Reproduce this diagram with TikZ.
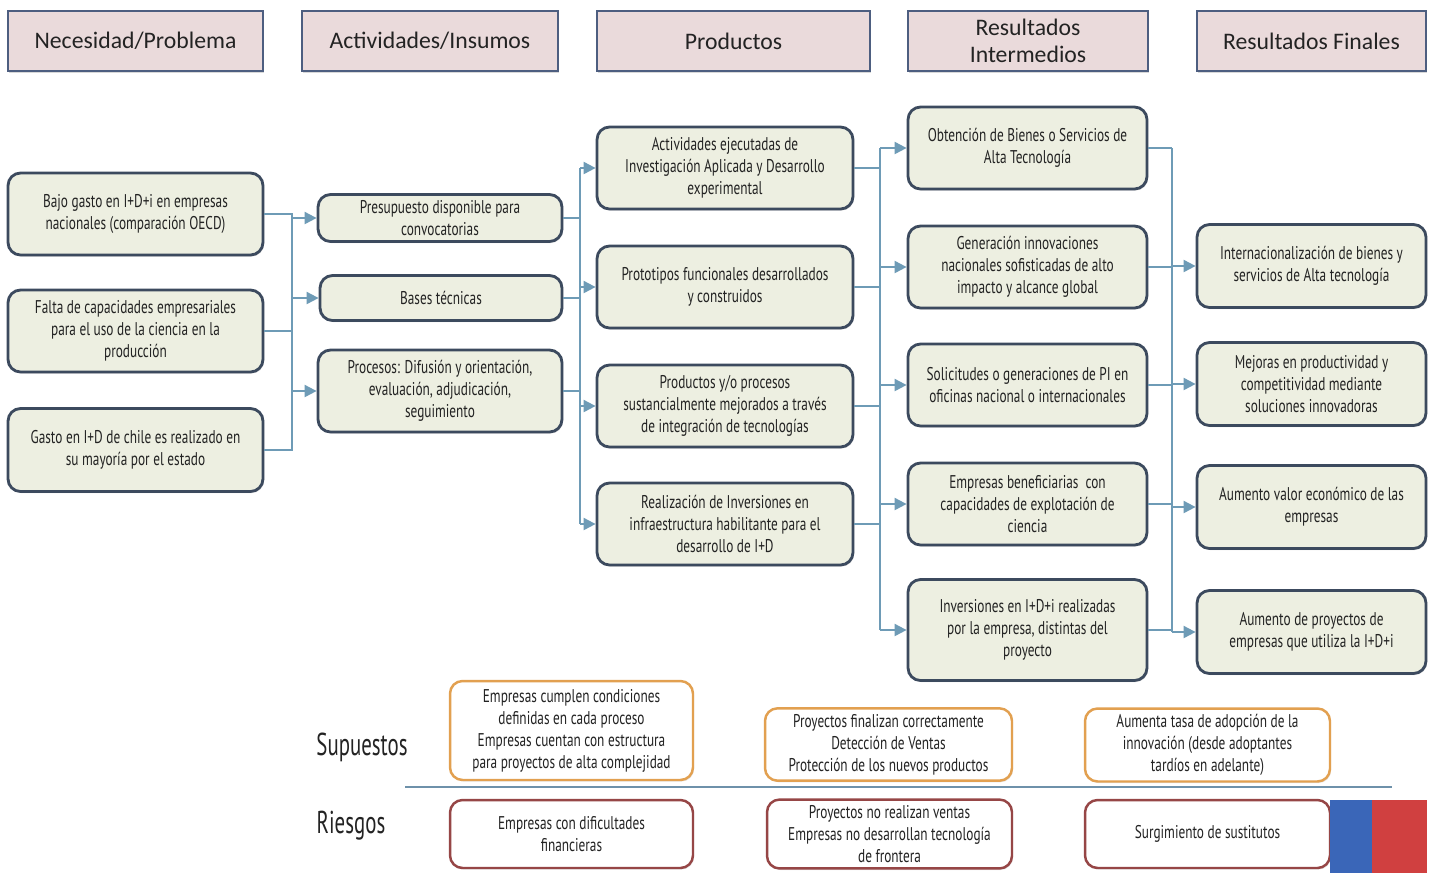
\documentclass[tikz,border=0pt]{standalone}
\usepackage{fontspec}
\setmainfont{Carlito}
\newfontfamily\condfont[FakeStretch=0.72]{PT Sans}
\newfontfamily\labelfont[FakeStretch=0.66]{PT Sans}
\usetikzlibrary{
  arrows.meta,
  shadows
}
\definecolor{headfill}{RGB}{234, 218, 219}
\definecolor{headdraw}{RGB}{77, 94, 128}
\definecolor{boxfill}{RGB}{237, 239, 225}
\definecolor{boxdraw}{RGB}{60, 74, 94}
\definecolor{linkcolor}{RGB}{110, 155, 182}
\definecolor{supcolor}{RGB}{226, 160, 80}
\definecolor{riskcolor}{RGB}{150, 70, 70}
\definecolor{dividercolor}{RGB}{110, 145, 170}
\definecolor{flagblue}{RGB}{58, 102, 184}
\definecolor{flagred}{RGB}{208, 64, 64}
\definecolor{labelcolor}{RGB}{35, 35, 35}
\newcommand{\boxfont}{\condfont\fontsize{10.5}{12.5}\selectfont}
\tikzset{
headblock/.style={
  draw=headdraw,
  line width=1.6pt,
  fill=headfill,
  minimum height=1.2cm,
  align=center,
  text=labelcolor,
  font=\fontsize{13.5}{15.5}\selectfont,
  drop shadow={shadow xshift=0.6pt, shadow yshift=-0.9pt, opacity=0.3}
},
block/.style={
  draw=boxdraw,
  line width=1.6pt,
  rounded corners=0.25cm,
  fill=boxfill,
  minimum height=1.64cm,
  align=center,
  text=labelcolor,
  font=\boxfont,
  drop shadow={shadow xshift=0.6pt, shadow yshift=-0.9pt, opacity=0.3}
},
supblock/.style={
  draw=supcolor,
  line width=1.4pt,
  rounded corners=0.25cm,
  fill=white,
  align=center,
  text=labelcolor,
  font=\boxfont,
  drop shadow={shadow xshift=0.6pt, shadow yshift=-0.9pt, opacity=0.2}
},
riskblock/.style={
  supblock,
  draw=riskcolor
},
sidelabel/.style={
  font=\labelfont\fontsize{18}{20}\selectfont,
  text=labelcolor
},
link/.style={
  draw=linkcolor,
  line width=1.1pt
},
arrow/.style={
  link,
  -{Triangle[length=2.4mm,width=2.4mm]}
}
}

\begin{document}
\begin{tikzpicture}[x=0.02cm, y=-0.02cm]
  \fill[white] (0,0) rectangle (1437,873);
  \useasboundingbox (0,0) rectangle (1437,873);

  % column headers
  \node[headblock, minimum width=5.1cm] (hdrNeed) at (135.5,41) {Necesidad/Problema};
  \node[headblock, minimum width=5.12cm] (hdrAct) at (430,41) {Actividades/Insumos};
  \node[headblock, minimum width=5.46cm] (hdrProd) at (733.5,41) {Productos};
  \node[headblock, minimum width=4.8cm] (hdrInter) at (1028,41) {Resultados\\Intermedios};
  \node[headblock, minimum width=4.58cm] (hdrFinal) at (1311.5,41) {Resultados Finales};

  % necesidad / problema
  \node[block, minimum width=5.1cm] (need1) at (135.5,214) {Bajo gasto en I+D+i en empresas\\nacionales (comparación OECD)};
  \node[block, minimum width=5.1cm] (need2) at (135.5,331) {Falta de capacidades empresariales\\para el uso de la ciencia en la\\producción};
  \node[block, minimum width=5.1cm, minimum height=1.66cm] (need3) at (135.5,450) {Gasto en I+D de chile es realizado en\\su mayoría por el estado};

  % actividades / insumos
  \node[block, minimum width=4.88cm, minimum height=0.94cm] (act1) at (440,218) {Presupuesto disponible para\\convocatorias};
  \node[block, minimum width=4.84cm, minimum height=0.9cm] (act2) at (441,298) {Bases técnicas};
  \node[block, minimum width=4.88cm] (act3) at (440,391) {Procesos: Difusión y orientación,\\evaluación, adjudicación,\\seguimiento};

  % productos
  \node[block, minimum width=5.12cm] (prod1) at (725,168) {Actividades ejecutadas de\\Investigación Aplicada y Desarrollo\\experimental};
  \node[block, minimum width=5.12cm] (prod2) at (725,287) {Prototipos funcionales desarrollados\\y construidos};
  \node[block, minimum width=5.12cm] (prod3) at (725,406) {Productos y/o procesos\\sustancialmente mejorados a través\\de integración de tecnologías};
  \node[block, minimum width=5.12cm] (prod4) at (725,524) {Realización de Inversiones en\\infraestructura habilitante para el\\desarrollo de I+D};

  % resultados intermedios
  \node[block, minimum width=4.78cm] (inter1) at (1027.5,148) {Obtención de Bienes o Servicios de\\Alta Tecnología};
  \node[block, minimum width=4.78cm] (inter2) at (1027.5,267) {Generación innovaciones\\nacionales sofisticadas de alto\\impacto y alcance global};
  \node[block, minimum width=4.78cm] (inter3) at (1027.5,385) {Solicitudes o generaciones de PI en\\oficinas nacional o internacionales};
  \node[block, minimum width=4.78cm] (inter4) at (1027.5,504) {Empresas beneficiarias\ \ con\\capacidades de explotación de\\ciencia};
  \node[block, minimum width=4.78cm, minimum height=2.02cm] (inter5) at (1027.5,630) {Inversiones en I+D+i realizadas\\por la empresa, distintas del\\proyecto};

  % resultados finales
  \node[block, minimum width=4.58cm, minimum height=1.66cm] (final1) at (1311.5,266) {Internacionalización de bienes y\\servicios de Alta tecnología};
  \node[block, minimum width=4.58cm, minimum height=1.66cm] (final2) at (1311.5,384) {Mejoras en productividad y\\competitividad mediante\\soluciones innovadoras};
  \node[block, minimum width=4.58cm, minimum height=1.66cm] (final3) at (1311.5,507) {Aumento valor económico de las\\empresas};
  \node[block, minimum width=4.58cm, minimum height=1.66cm] (final4) at (1311.5,632) {Aumento de proyectos de\\empresas que utiliza la I+D+i};

  % connectors
  \coordinate (busA) at (292,450);
  \coordinate (busB) at (580,0);
  \coordinate (busC) at (880,0);
  \coordinate (busD) at (1172,0);
  \draw[link] (need1.east) -| (busA) -- (need3.east);
  \draw[link] (need2.east) -- (need2.east -| busA);
  \foreach \n in {act1,act2,act3}
    \draw[arrow] (\n.west -| busA) -- (\n.west);
  \foreach \n in {act1,act2,act3}
    \draw[link] (\n.east) -- (\n.east -| busB);
  \draw[link] (prod1.west -| busB) -- (prod4.west -| busB);
  \foreach \n in {prod1,prod2,prod3,prod4}
    \draw[arrow] (\n.west -| busB) -- (\n.west);
  \foreach \n in {prod1,prod2,prod3,prod4}
    \draw[link] (\n.east) -- (\n.east -| busC);
  \draw[link] (inter1.west -| busC) -- (inter5.west -| busC);
  \foreach \n in {inter1,inter2,inter3,inter4,inter5}
    \draw[arrow] (\n.west -| busC) -- (\n.west);
  \foreach \n in {inter1,inter2,inter3,inter4,inter5}
    \draw[link] (\n.east) -- (\n.east -| busD);
  \draw[link] (inter1.east -| busD) -- (final4.west -| busD);
  \foreach \n in {final1,final2,final3,final4}
    \draw[arrow] (\n.west -| busD) -- (\n.west);

  % supuestos y riesgos
  \node[sidelabel] (supLabel) at (362,747) {Supuestos};
  \node[sidelabel] (riskLabel) at (351,826) {Riesgos};
  \node[supblock, minimum width=4.86cm, minimum height=1.98cm] (sup1) at (571.5,730.5) {Empresas cumplen condiciones\\definidas en cada proceso\\Empresas cuentan con estructura\\para proyectos de alta complejidad};
  \node[supblock, minimum width=4.94cm, minimum height=1.42cm] (sup2) at (888.5,744.5) {Proyectos finalizan correctamente\\Detección de Ventas\\Protección de los nuevos productos};
  \node[supblock, minimum width=4.9cm, minimum height=1.4cm] (sup3) at (1207.5,745) {Aumenta tasa de adopción de la\\innovación (desde adoptantes\\tardíos en adelante)};
  \draw[draw=dividercolor, line width=1pt] (405,787) -- (1392,787);
  \node[riskblock, minimum width=4.86cm, minimum height=1.36cm] (risk1) at (571.5,834) {Empresas con dificultades\\financieras};
  \node[riskblock, minimum width=4.9cm, minimum height=1.36cm] (risk2) at (889.5,834) {Proyectos no realizan ventas\\Empresas no desarrollan tecnología\\de frontera};
  \node[riskblock, minimum width=4.9cm, minimum height=1.36cm] (risk3) at (1207.5,834) {Surgimiento de sustitutos};

  % flag
  \fill[flagblue] (1330,800) rectangle (1372,873);
  \fill[flagred] (1372,800) rectangle (1427,873);
\end{tikzpicture}
\end{document}
